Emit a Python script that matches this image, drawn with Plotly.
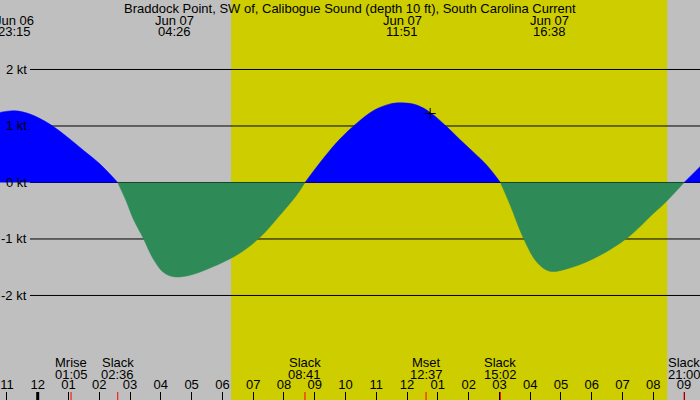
import plotly.graph_objects as go

# ---------------- data ----------------
TITLE = "Braddock Point, SW of, Calibogue Sound (depth 10 ft), South Carolina Current"

cur_times = [
    "2024-06-06 22:46", "2024-06-06 23:15", "2024-06-06 23:45", "2024-06-07 00:24",
    "2024-06-07 00:57", "2024-06-07 01:29", "2024-06-07 02:01", "2024-06-07 02:36",
    "2024-06-07 02:53", "2024-06-07 03:06", "2024-06-07 03:26", "2024-06-07 03:45",
    "2024-06-07 04:05", "2024-06-07 04:26", "2024-06-07 04:57", "2024-06-07 05:29",
    "2024-06-07 06:15", "2024-06-07 06:47", "2024-06-07 07:20", "2024-06-07 07:52",
    "2024-06-07 08:25", "2024-06-07 08:41", "2024-06-07 09:17", "2024-06-07 09:49",
    "2024-06-07 10:22", "2024-06-07 10:54", "2024-06-07 11:27", "2024-06-07 11:51",
    "2024-06-07 12:19", "2024-06-07 12:45", "2024-06-07 13:17", "2024-06-07 13:43",
    "2024-06-07 14:09", "2024-06-07 14:35", "2024-06-07 15:02", "2024-06-07 15:21",
    "2024-06-07 15:47", "2024-06-07 16:13", "2024-06-07 16:38", "2024-06-07 17:11",
    "2024-06-07 18:03", "2024-06-07 19:08", "2024-06-07 20:00", "2024-06-07 20:26",
    "2024-06-07 21:00", "2024-06-07 21:31",
]
cur_knots = [
    1.24, 1.27, 1.21, 1.03,
    0.81, 0.57, 0.33, 0.0,
    -0.34, -0.64, -0.99, -1.35,
    -1.59, -1.67, -1.64, -1.54,
    -1.35, -1.17, -0.91, -0.58,
    -0.22, 0.0, 0.43, 0.77,
    1.05, 1.27, 1.39, 1.41,
    1.37, 1.24, 0.99, 0.76,
    0.54, 0.31, 0.0, -0.40,
    -0.99, -1.41, -1.57, -1.53,
    -1.35, -0.99, -0.55, -0.33,
    0.0, 0.28,
]

# header: times of max flood / ebb
max_dates = ["Jun 06", "Jun 07", "Jun 07", "Jun 07"]
max_labels = ["23:15", "04:26", "11:51", "16:38"]
max_times = ["2024-06-06 23:15", "2024-06-07 04:26", "2024-06-07 11:51", "2024-06-07 16:38"]

# bottom events
event_names = ["Mrise", "Slack", "Slack", "Mset", "Slack", "Slack"]
event_labels = ["01:05", "02:36", "08:41", "12:37", "15:02", "21:00"]
event_times = ["2024-06-07 01:05", "2024-06-07 02:36", "2024-06-07 08:41",
               "2024-06-07 12:37", "2024-06-07 15:02", "2024-06-07 21:00"]

sunrise = "2024-06-07 06:17"
sunset = "2024-06-07 20:27"
midnight = "2024-06-07 00:00"
now_time = ["2024-06-07 12:45"]
now_knots = [1.22]

grid_levels = [2, 1, 0, -1, -2]
x_range = ["2024-06-06 22:46:30", "2024-06-07 21:31"]
y_range = [-3.85, 3.23]

# ---------------- style ----------------
BG = "#bfbfbf"
DAY = "#cdcd00"
FLOOD = "#0000ff"
EBB = "#2e8b57"
FONT = "Liberation Sans"
FS = 13

fig = go.Figure()

# split into segments at slack (zero) points
segments = []
seg_t, seg_v = [], []
for t, v in zip(cur_times, cur_knots):
    seg_t.append(t)
    seg_v.append(v)
    if v == 0 and len(seg_t) > 1:
        segments.append((seg_t, seg_v))
        seg_t, seg_v = [t], [v]
if len(seg_t) > 1:
    segments.append((seg_t, seg_v))

for st, sv in segments:
    positive = sum(sv) > 0
    col = FLOOD if positive else EBB
    fig.add_trace(go.Scatter(
        x=st, y=sv, mode="lines", line=dict(color=col, width=0.5, shape="spline", smoothing=1.0),
        fill="tozeroy", fillcolor=col, hoverinfo="skip", showlegend=False,
    ))

fig.add_trace(go.Scatter(
    x=now_time, y=now_knots, mode="markers",
    marker=dict(symbol="cross-thin", size=8, line=dict(color="black", width=1)),
    showlegend=False, hoverinfo="skip",
))

shapes = []
# daylight
shapes.append(dict(type="rect", xref="x", yref="paper", x0=sunrise, x1=sunset, y0=0, y1=1,
                   fillcolor=DAY, line=dict(width=0), layer="below"))
# grid lines
for g in grid_levels:
    shapes.append(dict(type="line", xref="paper", yref="y", x0=30 / 700, x1=1, y0=g, y1=g,
                       line=dict(color="black", width=1), layer="below"))
# midnight thick tick
shapes.append(dict(type="line", xref="x", yref="paper", x0=midnight, x1=midnight, y0=0, y1=8 / 400,
                   line=dict(color="black", width=3)))
# event ticks
for et in event_times:
    shapes.append(dict(type="line", xref="x", yref="paper", x0=et, x1=et, y0=0, y1=8 / 400,
                       line=dict(color="red", width=1)))

annotations = []
annotations.append(dict(text=TITLE, xref="paper", yref="paper", x=0.5, y=1 - 8 / 400,
                        xanchor="center", yanchor="middle", showarrow=False))
for d, lab, t in zip(max_dates, max_labels, max_times):
    annotations.append(dict(text=d, xref="x", yref="paper", x=t, y=1 - 20 / 400,
                            xanchor="center", yanchor="middle", showarrow=False))
    annotations.append(dict(text=lab, xref="x", yref="paper", x=t, y=1 - 32 / 400,
                            xanchor="center", yanchor="middle", showarrow=False))
for n, lab, t in zip(event_names, event_labels, event_times):
    annotations.append(dict(text=n, xref="x", yref="paper", x=t, y=1 - 362 / 400,
                            xanchor="center", yanchor="middle", showarrow=False))
    annotations.append(dict(text=lab, xref="x", yref="paper", x=t, y=1 - 374 / 400,
                            xanchor="center", yanchor="middle", showarrow=False))
for g in grid_levels:
    annotations.append(dict(text=f"{g} kt", xref="paper", yref="y", x=29 / 700, y=g,
                            xanchor="right", yanchor="middle", showarrow=False))

fig.update_layout(
    width=700, height=400,
    margin=dict(l=0, r=0, t=0, b=0),
    paper_bgcolor=BG, plot_bgcolor=BG,
    font=dict(family=FONT, size=FS, color="black"),
    shapes=shapes, annotations=annotations, showlegend=False,
    xaxis=dict(type="date", range=x_range, showgrid=False, zeroline=False, showline=False,
               tickformat="%I", dtick=3600000, tick0=midnight,
               ticks="inside", ticklen=8, tickcolor="black", tickwidth=1,
               ticklabelposition="inside", tickfont=dict(family=FONT, size=FS, color="black")),
    yaxis=dict(range=y_range, showgrid=False, zeroline=False, showline=False,
               showticklabels=False, ticks=""),
)

fig.write_html("out.html")
